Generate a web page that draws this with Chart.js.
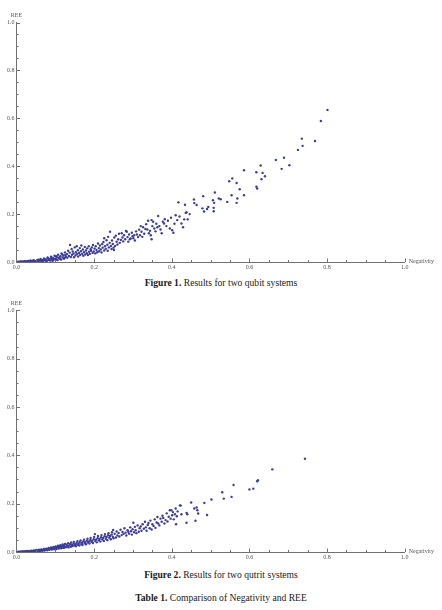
<!DOCTYPE html>
<html><head><meta charset="utf-8">
<script src="https://cdn.jsdelivr.net/npm/chart.js@4.4.0/dist/chart.umd.min.js"></script>
<style>
html,body{margin:0;padding:0;background:#fff;width:442px;height:610px;overflow:hidden;}
canvas{position:absolute;left:0;}
.cap{position:absolute;left:0;width:442px;text-align:center;font-family:"Liberation Serif","Times New Roman",serif;font-size:9.6px;color:#1a1a1a;line-height:10px;white-space:nowrap;}
.cap b{font-weight:bold;}
</style></head><body>
<canvas id="c1" width="442" height="275" style="top:0px"></canvas>
<div class="cap" style="top:278px"><b>Figure 1.</b> Results for two qubit systems</div>
<canvas id="c2" width="442" height="277" style="top:288px"></canvas>
<div class="cap" style="top:570px"><b>Figure 2.</b> Results for two qutrit systems</div>
<div class="cap" style="top:593px"><b>Table 1.</b> Comparison of Negativity and REE</div>
<script>
// ---- data ----
const xAxisName = "Negativity";
const yAxisName = "REE";
const tickValues = [0, 0.2, 0.4, 0.6, 0.8, 1.0];
const tickLabels = ["0.0", "0.2", "0.4", "0.6", "0.8", "1.0"];
const minorStep = 0.05;

// Figure 1: two qubit systems [Negativity, REE]
const qubitPoints = [
[0.004,0.001],[0.007,0.000],[0.011,0.002],[0.013,0.000],[0.016,0.002],[0.018,0.001],[0.022,0.003],[0.024,0.000],[0.026,0.002],[0.031,0.004],
[0.033,0.001],[0.036,0.006],[0.038,0.003],[0.041,0.002],[0.044,0.008],[0.047,0.004],[0.050,0.001],[0.053,0.007],[0.056,0.010],[0.057,0.003],
[0.059,0.006],[0.062,0.013],[0.065,0.005],[0.066,0.009],[0.068,0.002],[0.071,0.015],[0.074,0.007],[0.077,0.011],[0.078,0.004],[0.080,0.019],
[0.083,0.009],[0.086,0.013],[0.088,0.006],[0.089,0.022],[0.092,0.011],[0.095,0.016],[0.095,0.008],[0.098,0.026],[0.101,0.014],[0.104,0.010],
[0.104,0.020],[0.107,0.030],[0.110,0.016],[0.113,0.012],[0.113,0.024],[0.116,0.036],[0.119,0.019],[0.121,0.027],[0.122,0.014],[0.125,0.040],
[0.127,0.022],
[0.009,0.001],[0.020,0.001],[0.028,0.003],[0.035,0.002],[0.043,0.005],[0.049,0.003],[0.055,0.004],[0.061,0.008],[0.064,0.003],[0.070,0.006],
[0.073,0.012],[0.076,0.005],[0.082,0.015],[0.085,0.007],[0.091,0.018],[0.093,0.005],[0.099,0.012],[0.102,0.024],[0.106,0.008],[0.111,0.021],
[0.115,0.010],[0.118,0.031],[0.124,0.017],[0.126,0.029],
[0.130,0.033],[0.131,0.018],[0.133,0.047],[0.135,0.025],[0.137,0.039],[0.138,0.071],[0.140,0.021],[0.142,0.054],[0.143,0.030],[0.145,0.044],
[0.147,0.035],[0.148,0.020],[0.150,0.061],[0.152,0.027],[0.153,0.041],[0.155,0.066],[0.156,0.033],[0.158,0.049],[0.159,0.023],[0.161,0.038],
[0.163,0.058],[0.164,0.029],[0.166,0.045],[0.167,0.069],[0.169,0.034],[0.171,0.052],[0.172,0.026],[0.174,0.041],[0.176,0.063],[0.177,0.031],
[0.179,0.048],[0.181,0.037],[0.182,0.057],[0.184,0.029],[0.186,0.066],[0.187,0.043],[0.189,0.034],[0.191,0.053],[0.192,0.047],[0.194,0.061],
[0.196,0.038],[0.197,0.071],[0.199,0.044],[0.201,0.056],[0.203,0.036],[0.204,0.066],[0.206,0.050],[0.208,0.041],[0.210,0.077],[0.212,0.058],
[0.213,0.045],[0.215,0.069],[0.217,0.052],[0.219,0.040],[0.221,0.075],[0.222,0.060],[0.224,0.084],[0.226,0.048],[0.226,0.099],[0.228,0.066],
[0.230,0.055],[0.232,0.091],[0.234,0.072],[0.235,0.047],[0.236,0.105],[0.238,0.061],[0.240,0.080],[0.241,0.126],[0.243,0.067],[0.245,0.054],
[0.246,0.090],[0.248,0.075],[0.250,0.060],[0.251,0.050],[0.252,0.102],
[0.254,0.067],[0.256,0.110],[0.258,0.085],[0.260,0.073],[0.262,0.095],[0.264,0.118],[0.266,0.080],[0.269,0.092],[0.271,0.120],[0.273,0.102],
[0.275,0.086],[0.277,0.112],[0.280,0.095],[0.282,0.130],[0.284,0.126],[0.286,0.104],[0.288,0.085],[0.290,0.115],[0.292,0.095],[0.294,0.098],
[0.297,0.122],[0.299,0.108],[0.301,0.099],[0.303,0.112],[0.305,0.090],[0.308,0.128],[0.310,0.115],[0.313,0.104],[0.316,0.135],[0.318,0.112],
[0.320,0.150],[0.322,0.126],[0.324,0.105],[0.326,0.145],[0.329,0.118],[0.332,0.138],[0.334,0.158],[0.337,0.136],[0.339,0.172],[0.341,0.120],
[0.344,0.130],[0.346,0.112],[0.348,0.175],[0.348,0.095],[0.350,0.150],[0.352,0.168],[0.355,0.140],[0.358,0.128],[0.360,0.160],[0.363,0.145],
[0.365,0.192],[0.368,0.150],[0.371,0.136],[0.374,0.120],[0.377,0.168],[0.380,0.161],[0.382,0.179],[0.386,0.150],[0.390,0.172],[0.395,0.140],
[0.398,0.185],[0.401,0.133],[0.404,0.122],[0.407,0.160],[0.410,0.195],[0.414,0.175],[0.417,0.249],[0.420,0.190],[0.425,0.161],[0.429,0.145],
[0.432,0.178],[0.434,0.239],[0.436,0.205],[0.438,0.208],[0.441,0.178],[0.446,0.200],
[0.457,0.261],[0.458,0.246],[0.464,0.238],[0.479,0.224],[0.481,0.275],[0.483,0.211],[0.491,0.221],[0.494,0.230],[0.506,0.258],[0.508,0.226],
[0.508,0.212],[0.509,0.247],[0.511,0.290],[0.521,0.265],[0.526,0.262],[0.543,0.251],[0.548,0.337],[0.554,0.279],[0.556,0.349],[0.567,0.330],
[0.567,0.247],[0.569,0.265],[0.575,0.304],[0.586,0.383],[0.586,0.279],[0.618,0.375],[0.618,0.314],[0.620,0.307],[0.629,0.403],[0.631,0.346],
[0.634,0.372],[0.640,0.358],[0.668,0.426],[0.683,0.389],[0.689,0.435],[0.703,0.404],[0.725,0.468],[0.735,0.515],[0.737,0.485],[0.769,0.505],
[0.784,0.589],[0.801,0.635]
];

// Figure 2: two qutrit systems [Negativity, REE]
const qutritPoints = [
[0.003,0.000],[0.005,0.001],[0.008,0.000],[0.010,0.001],[0.013,0.000],[0.015,0.002],[0.017,0.001],[0.020,0.000],[0.021,0.002],[0.024,0.003],
[0.026,0.001],[0.029,0.002],[0.031,0.004],[0.033,0.001],[0.036,0.003],[0.038,0.005],[0.039,0.002],[0.042,0.004],[0.045,0.006],[0.046,0.002],
[0.049,0.005],[0.051,0.008],[0.053,0.003],[0.055,0.006],[0.058,0.009],[0.059,0.004],[0.062,0.007],[0.064,0.011],[0.066,0.005],[0.069,0.009],
[0.071,0.013],[0.072,0.006],[0.075,0.010],[0.077,0.014],[0.079,0.007],[0.081,0.012],[0.083,0.017],[0.085,0.009],[0.087,0.013],[0.089,0.019],
[0.091,0.010],[0.093,0.015],[0.095,0.021],[0.097,0.011],[0.099,0.017],[0.101,0.023],[0.103,0.012],[0.105,0.018],[0.107,0.026],[0.109,0.014],
[0.111,0.020],[0.113,0.028],[0.115,0.015],[0.117,0.022],[0.119,0.031],[0.121,0.017],[0.123,0.024],[0.125,0.033],
[0.012,0.001],[0.019,0.001],[0.027,0.003],[0.034,0.002],[0.041,0.003],[0.044,0.004],[0.048,0.003],[0.052,0.005],[0.057,0.006],[0.061,0.005],
[0.063,0.008],[0.068,0.007],[0.070,0.010],[0.074,0.008],[0.078,0.011],[0.080,0.009],[0.084,0.012],[0.086,0.014],[0.090,0.013],[0.092,0.016],
[0.096,0.014],[0.098,0.019],[0.102,0.016],[0.104,0.020],[0.108,0.019],[0.110,0.023],[0.114,0.020],[0.116,0.025],[0.120,0.022],[0.122,0.027],
[0.124,0.019],
[0.127,0.020],[0.129,0.030],[0.131,0.024],[0.133,0.036],[0.134,0.019],[0.136,0.027],[0.138,0.033],[0.140,0.022],[0.141,0.039],[0.143,0.029],
[0.145,0.025],[0.147,0.035],[0.148,0.042],[0.150,0.028],[0.152,0.032],[0.153,0.024],[0.155,0.038],[0.157,0.045],[0.158,0.030],[0.160,0.035],
[0.162,0.027],[0.163,0.041],[0.165,0.048],[0.167,0.033],[0.169,0.038],[0.170,0.029],[0.172,0.044],[0.174,0.051],[0.176,0.036],[0.177,0.041],
[0.179,0.032],[0.181,0.047],[0.183,0.055],[0.184,0.039],[0.186,0.044],[0.188,0.035],[0.190,0.050],[0.191,0.058],[0.193,0.042],[0.195,0.047],
[0.197,0.037],[0.199,0.053],[0.200,0.062],[0.202,0.074],[0.203,0.045],[0.205,0.051],[0.207,0.040],[0.209,0.057],[0.210,0.066],[0.212,0.048],
[0.214,0.054],[0.216,0.043],[0.218,0.061],[0.219,0.070],[0.221,0.052],[0.223,0.058],[0.225,0.046],[0.227,0.065],[0.228,0.074],[0.230,0.055],
[0.232,0.062],[0.234,0.049],[0.236,0.069],[0.237,0.078],[0.239,0.059],[0.241,0.066],[0.243,0.053],[0.245,0.072],[0.246,0.082],[0.248,0.063],
[0.249,0.091],[0.250,0.057],
[0.253,0.075],[0.256,0.060],[0.258,0.085],[0.260,0.068],[0.263,0.079],[0.265,0.064],[0.268,0.092],[0.271,0.070],[0.273,0.083],[0.276,0.075],
[0.278,0.098],[0.281,0.080],[0.283,0.068],[0.286,0.090],[0.288,0.084],[0.290,0.076],[0.293,0.102],[0.295,0.086],[0.297,0.072],[0.299,0.094],
[0.301,0.121],[0.303,0.082],[0.305,0.104],[0.307,0.090],[0.309,0.078],[0.312,0.110],[0.315,0.084],[0.317,0.098],[0.320,0.106],[0.322,0.088],
[0.325,0.115],[0.328,0.096],[0.331,0.125],[0.333,0.102],[0.335,0.088],[0.338,0.112],[0.340,0.120],[0.343,0.098],[0.345,0.130],[0.348,0.093],
[0.350,0.115],[0.353,0.108],[0.356,0.135],[0.358,0.100],[0.361,0.122],[0.363,0.145],[0.365,0.118],[0.368,0.110],[0.371,0.138],[0.374,0.125],
[0.376,0.150],[0.378,0.141],[0.381,0.118],[0.384,0.132],[0.387,0.160],[0.389,0.126],[0.392,0.146],[0.395,0.173],[0.397,0.138],[0.399,0.173],
[0.401,0.152],[0.403,0.165],[0.405,0.135],[0.408,0.156],[0.410,0.180],[0.411,0.115],[0.413,0.148],[0.415,0.168],
[0.421,0.193],[0.423,0.192],[0.425,0.156],[0.438,0.162],[0.438,0.121],[0.440,0.156],[0.450,0.205],[0.458,0.180],[0.461,0.129],[0.464,0.184],
[0.466,0.173],[0.468,0.159],[0.484,0.203],[0.491,0.153],[0.502,0.217],[0.530,0.247],[0.534,0.221],[0.554,0.228],[0.559,0.277],[0.600,0.259],
[0.610,0.262],[0.620,0.293],[0.622,0.297],[0.659,0.342],[0.743,0.386]
];

// ---- drawing ----
const AXIS_COLOR = '#707070';
const LABEL_COLOR = '#555';
const FONT = '"Liberation Serif","Times New Roman",serif';

const axisDecor = {
  id: 'axisDecor',
  afterDraw(chart) {
    const {ctx, scales: {x, y}, chartArea: a} = chart;
    ctx.save();
    ctx.strokeStyle = AXIS_COLOR;
    ctx.lineWidth = 1;
    const n = Math.round(1 / minorStep);
    for (let k = 1; k <= n; k++) {
      const v = k * minorStep;
      const major = tickValues.some(t => Math.abs(t - v) < 1e-9);
      const len = major ? 3.5 : 2;
      const px = Math.round(x.getPixelForValue(v)) + 0.5;
      ctx.beginPath(); ctx.moveTo(px, a.bottom); ctx.lineTo(px, a.bottom - len); ctx.stroke();
      const py = Math.round(y.getPixelForValue(v)) + 0.5;
      ctx.beginPath(); ctx.moveTo(a.left, py); ctx.lineTo(a.left + len, py); ctx.stroke();
    }
    ctx.fillStyle = LABEL_COLOR;
    ctx.font = '6px ' + FONT;
    ctx.textAlign = 'center'; ctx.textBaseline = 'middle';
    ctx.fillText(yAxisName, a.left, a.top - 7);
    ctx.textAlign = 'left';
    ctx.fillText(xAxisName, a.right + 4, a.bottom - 1);
    ctx.restore();
  }
};

function makeChart(id, pts, padTop) {
  const scaleBase = (fitFn) => ({
    type: 'linear', min: 0, max: 1,
    afterFit: fitFn,
    afterBuildTicks(s) { s.ticks = tickValues.map(v => ({value: v})); },
    grid: {display: false, drawTicks: false},
    border: {display: true, color: AXIS_COLOR, width: 1},
    ticks: {
      autoSkip: false, maxRotation: 0, minRotation: 0, padding: 2,
      font: {family: FONT, size: 6}, color: LABEL_COLOR,
      callback: (v, i) => tickLabels[i]
    }
  });
  return new Chart(document.getElementById(id), {
    type: 'scatter',
    data: {datasets: [{
      data: pts.map(p => ({x: p[0], y: p[1]})),
      backgroundColor: '#3d3d99', borderWidth: 0,
      pointRadius: 1.2, pointHoverRadius: 1.2
    }]},
    options: {
      responsive: false, animation: false, events: [],
      layout: {padding: {top: padTop, right: 37.3, left: 0, bottom: 0}},
      plugins: {legend: {display: false}, tooltip: {enabled: false}, title: {display: false}},
      scales: {
        x: scaleBase(s => { s.height = 13; }),
        y: scaleBase(s => { s.width = 16.5; })
      }
    },
    plugins: [axisDecor]
  });
}

makeChart('c1', qubitPoints, 22.5);
makeChart('c2', qutritPoints, 22.3);
</script>
</body></html>
